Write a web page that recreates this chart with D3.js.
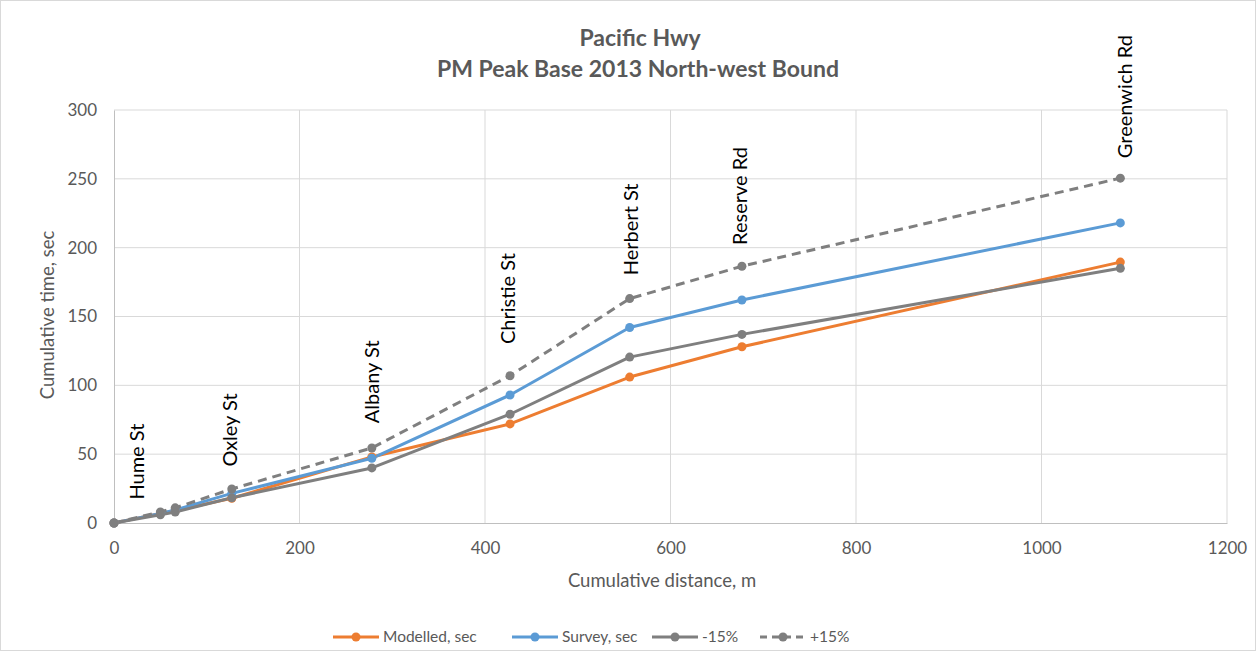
<!DOCTYPE html>
<html><head><meta charset="utf-8">
<script src="https://cdn.jsdelivr.net/npm/d3@7"></script>
<style>body{margin:0;background:#fff;}svg{display:block;font-family:Lato,"Open Sans",sans-serif;}</style>
</head><body><svg id="c" width="1256" height="651"></svg>
<script>
const distance = [0, 50, 66, 127, 278, 427, 556, 677, 1085];
const modelled = [0, 7, 9, 18, 48, 72, 106, 128, 189.5];
const survey   = [0, 7, 9.5, 21.5, 47, 93, 142, 162, 218];
const minus15  = [0, 6, 8, 18.3, 40, 79, 120.5, 137, 185];
const plus15   = [0, 8, 11, 24.7, 54.5, 107, 163, 186.5, 250.5];
const streetNames = ["Hume St", "Oxley St", "Albany St", "Christie St", "Herbert St", "Reserve Rd", "Greenwich Rd"];
const streetDist  = [25, 125, 278, 425, 557, 675, 1090];
const streetTime  = [17, 41, 72.5, 130, 180, 202, 265];
const xTicks = [0, 200, 400, 600, 800, 1000, 1200];
const yTicks = [0, 50, 100, 150, 200, 250, 300];
const seriesNames = ["Modelled, sec", "Survey, sec", "-15%", "+15%"];
const seriesColors = ["#ED7D31", "#5B9BD5", "#7F7F7F", "#7F7F7F"];
const seriesDash = [null, null, null, "9,6"];
const seriesValues = [modelled, survey, minus15, plus15];

const svg = d3.select("#c");
const x = d3.scaleLinear().domain([0, 1200]).range([114, 1227]);
const y = d3.scaleLinear().domain([0, 300]).range([523, 110]);
const txt = "#595959";

svg.append("rect").attr("x",0.5).attr("y",0.5).attr("width",1255).attr("height",650).attr("fill","#fff").attr("stroke","#d9d9d9");

// grid
svg.append("g").selectAll("line.h").data(yTicks.slice(1)).join("line")
  .attr("x1", x(0)).attr("x2", x(1200)).attr("y1", d=>y(d)).attr("y2", d=>y(d))
  .attr("stroke", "#d9d9d9").attr("stroke-width", 1);
svg.append("g").selectAll("line.v").data(xTicks.slice(1)).join("line")
  .attr("x1", d=>x(d)).attr("x2", d=>x(d)).attr("y1", y(0)).attr("y2", y(300))
  .attr("stroke", "#d9d9d9").attr("stroke-width", 1);

// axes
const xa = svg.append("g").attr("transform", `translate(0,${y(0)})`)
  .call(d3.axisBottom(x).tickValues(xTicks).tickFormat(d3.format("d")).tickSize(0).tickPadding(19));
const ya = svg.append("g").attr("transform", `translate(${x(0)},0)`)
  .call(d3.axisLeft(y).tickValues(yTicks).tickSize(0).tickPadding(17));
[xa, ya].forEach(a => {
  a.select(".domain").attr("stroke", "#bfbfbf").attr("stroke-width", 1);
  a.selectAll("text").attr("fill", txt).attr("font-size", 17).attr("font-family", "Lato, sans-serif");
});

// lines
const line = d3.line().x((d,i)=>x(distance[i])).y(d=>y(d));
seriesValues.forEach((vals, k) => {
  svg.append("path").datum(vals).attr("d", line).attr("fill", "none")
    .attr("stroke", seriesColors[k]).attr("stroke-width", 3)
    .attr("stroke-dasharray", seriesDash[k]).attr("stroke-linejoin", "round");
});
seriesValues.forEach((vals, k) => {
  svg.append("g").selectAll("circle").data(vals).join("circle")
    .attr("cx", (d,i)=>x(distance[i])).attr("cy", d=>y(d)).attr("r", 4.5)
    .attr("fill", seriesColors[k]);
});

// street labels
svg.append("g").selectAll("text").data(streetNames).join("text")
  .attr("transform", (d,i)=>`translate(${x(streetDist[i])+7},${y(streetTime[i])}) rotate(-90)`)
  .attr("font-size", 20).attr("fill", "#000").text(d=>d);

// titles
svg.append("text").attr("x", 640).attr("y", 46).attr("text-anchor","middle")
  .attr("font-size", 23).attr("font-weight","bold").attr("fill", txt).text("Pacific Hwy");
svg.append("text").attr("x", 638).attr("y", 77).attr("text-anchor","middle")
  .attr("font-size", 23).attr("font-weight","bold").attr("fill", txt).text("PM Peak Base 2013 North-west Bound");
svg.append("text").attr("x", 662).attr("y", 587).attr("text-anchor","middle")
  .attr("font-size", 18.5).attr("fill", txt).text("Cumulative distance, m");
svg.append("text").attr("transform", "translate(54,315) rotate(-90)").attr("text-anchor","middle")
  .attr("font-size", 18.5).attr("fill", txt).text("Cumulative time, sec");

// legend
const legX = [333, 512, 652, 760];
const lg = svg.append("g");
seriesNames.forEach((n, k) => {
  const g = lg.append("g").attr("transform", `translate(${legX[k]},637)`);
  g.append("line").attr("x1", 0).attr("x2", 46).attr("stroke", seriesColors[k]).attr("stroke-width", 3)
    .attr("stroke-dasharray", k===3 ? "7,5" : null);
  g.append("circle").attr("cx", 23).attr("r", 4.5).attr("fill", seriesColors[k]);
  g.append("text").attr("x", 50).attr("y", 5).attr("font-size", 15.5).attr("fill", txt).text(n);
});
</script></body></html>
